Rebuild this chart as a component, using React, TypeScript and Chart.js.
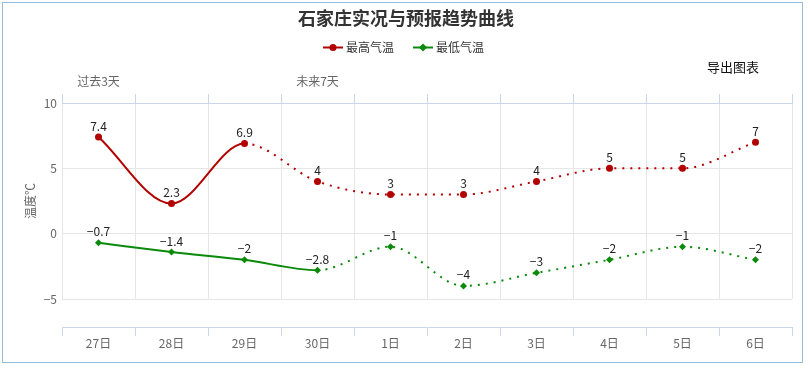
import React, { useEffect, useRef } from "react";
import { Chart, registerables } from "chart.js";

Chart.register(...registerables);

const categories = ["27日", "28日", "29日", "30日", "1日", "2日", "3日", "4日", "5日", "6日"];
const topLabels = ["过去3天", "", "", "未来7天", "", "", "", "", "", ""];
const maxTemps = [7.4, 2.3, 6.9, 4, 3, 3, 4, 5, 5, 7];
const minTemps = [-0.7, -1.4, -2, -2.8, -1, -4, -3, -2, -1, -2];
const seriesNames = ["最高气温", "最低气温"];
const chartTitle = "石家庄实况与预报趋势曲线";
const maxForecastFrom = 2;
const minForecastFrom = 3;

const RED = "#b20000";
const GREEN = "#0a8a0a";
const FONT = '"Noto Sans CJK SC", "Microsoft YaHei", sans-serif';

const fmt = (v: number) => String(v).replace("-", "\u2212");

const labelsPlugin = {
  id: "pointLabels",
  afterDatasetsDraw(chart: any) {
    const ctx = chart.ctx;
    ctx.save();
    ctx.font = `12px ${FONT}`;
    ctx.fillStyle = "#222";
    ctx.textAlign = "center";
    ctx.textBaseline = "middle";
    chart.data.datasets.forEach((ds: any, i: number) => {
      const meta = chart.getDatasetMeta(i);
      meta.data.forEach((pt: any, j: number) => {
        ctx.fillText(fmt(ds.data[j]), pt.x, pt.y - 11);
      });
    });
    ctx.restore();
  },
};

const headerPlugin = {
  id: "header",
  afterDraw(chart: any) {
    const ctx = chart.ctx;
    ctx.save();
    ctx.fillStyle = "#333";
    ctx.font = `bold 18px ${FONT}`;
    ctx.textAlign = "center";
    ctx.textBaseline = "middle";
    ctx.fillText(chartTitle, 406, 18);

    const y = 47.5;
    const items = [
      { x: 323, color: RED, style: "circle", text: seriesNames[0] },
      { x: 413, color: GREEN, style: "diamond", text: seriesNames[1] },
    ];
    items.forEach((it) => {
      ctx.strokeStyle = it.color;
      ctx.lineWidth = 2;
      ctx.beginPath();
      ctx.moveTo(it.x, y);
      ctx.lineTo(it.x + 20, y);
      ctx.stroke();
      ctx.fillStyle = it.color;
      ctx.beginPath();
      const cx = it.x + 10;
      if (it.style === "circle") {
        ctx.arc(cx, y, 3.5, 0, Math.PI * 2);
      } else {
        ctx.moveTo(cx, y - 4);
        ctx.lineTo(cx + 4, y);
        ctx.lineTo(cx, y + 4);
        ctx.lineTo(cx - 4, y);
        ctx.closePath();
      }
      ctx.fill();
      ctx.fillStyle = "#333";
      ctx.font = `12px ${FONT}`;
      ctx.textAlign = "left";
      ctx.textBaseline = "middle";
      ctx.fillText(it.text, it.x + 23, y);
    });
    ctx.restore();
  },
};

export default function App() {
  const ref = useRef<HTMLCanvasElement | null>(null);

  useEffect(() => {
    document.body.style.margin = "0";
    if (!ref.current) return;
    const dot = [2, 6];
    const chart = new Chart(ref.current, {
      type: "line",
      data: {
        labels: categories,
        datasets: [
          {
            label: seriesNames[0],
            data: maxTemps,
            borderColor: RED,
            backgroundColor: RED,
            borderWidth: 2,
            pointRadius: 3.5,
            pointStyle: "circle",
            pointBackgroundColor: RED,
            pointBorderWidth: 0,
            cubicInterpolationMode: "monotone",
            xAxisID: "x",
            segment: {
              borderDash: (c: any) => (c.p0DataIndex >= maxForecastFrom ? dot : undefined),
            },
          },
          {
            label: seriesNames[1],
            data: minTemps,
            borderColor: GREEN,
            backgroundColor: GREEN,
            borderWidth: 2,
            pointRadius: 3.5,
            pointStyle: "rectRot",
            pointBackgroundColor: GREEN,
            pointBorderWidth: 0,
            cubicInterpolationMode: "monotone",
            xAxisID: "x",
            segment: {
              borderDash: (c: any) => (c.p0DataIndex >= minForecastFrom ? dot : undefined),
            },
          },
        ],
      },
      options: {
        animation: false,
        responsive: false,
        maintainAspectRatio: false,
        font: { family: FONT },
        layout: { padding: { left: 0, right: 18, top: 0, bottom: 12 } },
        plugins: {
          legend: { display: false },
          tooltip: { enabled: false },
          title: { display: false },
        },
        scales: {
          xTop: {
            type: "category",
            position: "top",
            labels: topLabels,
            offset: true,
            grid: {
              offset: true,
              color: "#e6e6e6",
              tickColor: "#ccd6eb",
              tickLength: 9,
              drawOnChartArea: true,
            },
            border: { display: true, color: "#ccd6eb" },
            ticks: {
              color: "#666",
              font: { family: FONT, size: 12 },
              padding: 5,
              maxRotation: 0,
              autoSkip: false,
            },
            afterFit: (s: any) => {
              s.height = 103;
            },
          },
          xSpace: {
            type: "category",
            position: "bottom",
            labels: categories,
            weight: 0,
            grid: { display: false },
            border: { display: false },
            ticks: { display: false },
            afterFit: (s: any) => {
              s.height = 28;
            },
          },
          x: {
            type: "category",
            position: "bottom",
            weight: 1,
            offset: true,
            grid: {
              offset: true,
              drawOnChartArea: false,
              color: "#ccd6eb",
              tickLength: 9,
            },
            border: { display: true, color: "#ccd6eb" },
            ticks: {
              color: "#666",
              font: { family: FONT, size: 12 },
              padding: 0,
              maxRotation: 0,
              autoSkip: false,
            },
            afterFit: (s: any) => {
              s.height = 29;
            },
          },
          y: {
            min: -5,
            max: 10,
            position: "left",
            ticks: {
              stepSize: 5,
              color: "#666",
              font: { family: FONT, size: 12 },
              padding: 5,
              callback: (v: any) => fmt(Number(v)),
            },
            grid: { color: "#e6e6e6", drawTicks: false },
            border: { display: false },
            title: {
              display: true,
              text: "温度℃",
              color: "#666",
              font: { family: FONT, size: 12 },
              padding: { top: 23, bottom: 0 },
            },
            afterFit: (s: any) => {
              s.width = 62;
            },
          },
        },
      },
      plugins: [labelsPlugin, headerPlugin],
    } as any);
    return () => chart.destroy();
  }, []);

  return (
    <div style={{ position: "fixed", left: 0, top: 0, width: 810, height: 368, background: "#fff" }}>
      <div
        style={{
          position: "absolute",
          left: 2,
          top: 2,
          width: 799,
          height: 359,
          border: "1px solid #93bbdc",
        }}
      />
      <canvas ref={ref} width={810} height={368} style={{ position: "absolute", left: 0, top: 0 }} />
      <div
        style={{
          position: "absolute",
          left: 707,
          top: 58,
          fontFamily: FONT,
          fontSize: 13,
          lineHeight: "18px",
          color: "#111",
        }}
      >
        导出图表
      </div>
    </div>
  );
}
